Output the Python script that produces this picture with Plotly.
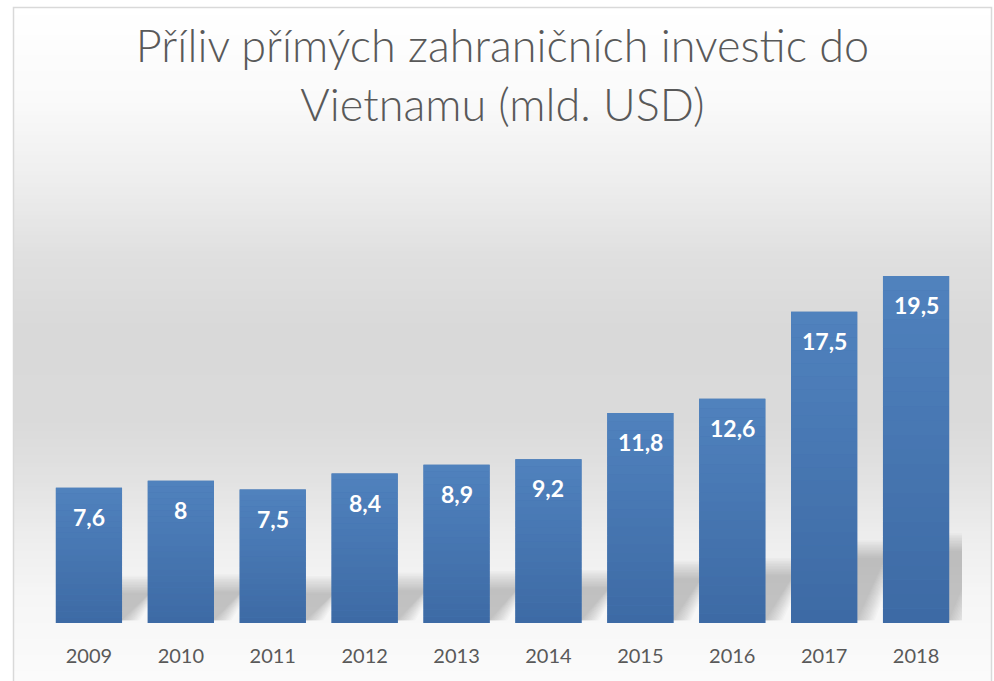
import plotly.graph_objects as go

years = ["2009", "2010", "2011", "2012", "2013", "2014", "2015", "2016", "2017", "2018"]
fdi = [7.6, 8.0, 7.5, 8.4, 8.9, 9.2, 11.8, 12.6, 17.5, 19.5]
labels = ["7,6", "8", "7,5", "8,4", "8,9", "9,2", "11,8", "12,6", "17,5", "19,5"]
title_text = "Příliv přímých zahraničních investic do<br>Vietnamu (mld. USD)"

W, H = 994, 681
ML, MR, MT, MB = 43, 32, 196, 58
PW, PH = W - ML - MR, H - MT - MB
Y_MAX = 24
BARGAP = 0.28
HALF = (1 - BARGAP) / 2
UX = PW / len(years)          # pixels per category
UY = PH / Y_MAX               # pixels per unit


def px(x):
    return (x - ML) / PW


def py(y):
    return (H - MB - y) / PH


# background gradient stops (pixel y, grey level)
stops = [(7, 255), (100, 250), (180, 238), (260, 223), (330, 217), (420, 218),
         (480, 226), (540, 238), (600, 246), (681, 251)]

shapes = []
step = 4
y = 7
while y < H:
    y2 = min(y + step, H)
    mid = (y + y2) / 2
    for (a, ga), (b, gb) in zip(stops[:-1], stops[1:]):
        if a <= mid <= b:
            g = ga + (gb - ga) * (mid - a) / (b - a)
            break
    g = int(round(g))
    shapes.append(dict(type="rect", xref="paper", yref="paper", layer="below",
                       x0=px(14), x1=px(991), y0=py(y2), y1=py(y),
                       fillcolor=f"rgb({g},{g},{g})", line=dict(width=0)))
    y = y2

# perspective shadow behind each bar (blurred by layering)
NBLUR = 12
for i, v in enumerate(fdi):
    h = 0.2 * v
    dx = 28 / UX
    for k in range(NBLUR):
        grow = (NBLUR - 1 - k) * 1.6          # outer layers first
        gx = grow / UX
        gy = grow / UY
        x0 = i - HALF
        x1 = i + HALF + gx
        b = 0.15
        t = b + h + gy
        path = (f"M {x0},{b} L {x1},{b} L {x1 + dx},{t} L {x0 + dx},{t} Z")
        shapes.append(dict(type="path", xref="x", yref="y", layer="below",
                           path=path, fillcolor="rgba(90,90,90,0.032)",
                           line=dict(width=0)))

# vertical gradient over each bar
top_c = (80, 130, 190)
bot_c = (61, 106, 164)
NSEG = 24
for i, v in enumerate(fdi):
    for s in range(NSEG):
        y0 = v * s / NSEG
        y1 = v * (s + 1) / NSEG
        f = (s + 0.5) / NSEG
        c = tuple(int(round(bot_c[j] + (top_c[j] - bot_c[j]) * f)) for j in range(3))
        shapes.append(dict(type="rect", xref="x", yref="y", layer="above",
                           x0=i - HALF, x1=i + HALF, y0=y0, y1=y1,
                           fillcolor=f"rgb{c}", line=dict(width=0)))

# chart border
shapes.append(dict(type="rect", xref="paper", yref="paper", layer="above",
                   x0=px(13.5), x1=px(991.5), y0=py(H + 5), y1=py(7.5),
                   fillcolor="rgba(0,0,0,0)", line=dict(color="#d9d9d9", width=1.5)))

fig = go.Figure()
fig.add_trace(go.Bar(
    x=years, y=fdi,
    marker=dict(color="#4676b2", line=dict(width=0)),
    hoverinfo="x+y",
))

annotations = []
for i, (v, t) in enumerate(zip(fdi, labels)):
    annotations.append(dict(x=i, y=v, xref="x", yref="y", text=t, showarrow=False,
                            yshift=-29, yanchor="middle",
                            font=dict(family="Lato", size=23, color="white", weight="bold")))

fig.update_layout(
    width=W, height=H,
    margin=dict(l=ML, r=MR, t=MT, b=MB, pad=0),
    paper_bgcolor="white",
    plot_bgcolor="rgba(0,0,0,0)",
    bargap=BARGAP,
    showlegend=False,
    shapes=shapes,
    annotations=annotations,
    title=dict(text=title_text, x=0.5, xref="paper", xanchor="center",
               y=1 - 62 / H, yref="container", yanchor="top",
               font=dict(family="Lato", size=45, color="#595959", weight=300)),
    xaxis=dict(type="category", range=[-0.5, len(years) - 0.5], autorange=False,
               showgrid=False, showline=False, zeroline=False,
               ticks="outside", ticklen=15, tickcolor="rgba(0,0,0,0)",
               tickfont=dict(family="Lato", size=20, color="#595959")),
    yaxis=dict(range=[0, Y_MAX], autorange=False, showgrid=False, showline=False,
               zeroline=False, showticklabels=False, ticks=""),
)

fig.write_html("out.html", config={"displayModeBar": False},
               post_script="document.body.style.margin='0';")
